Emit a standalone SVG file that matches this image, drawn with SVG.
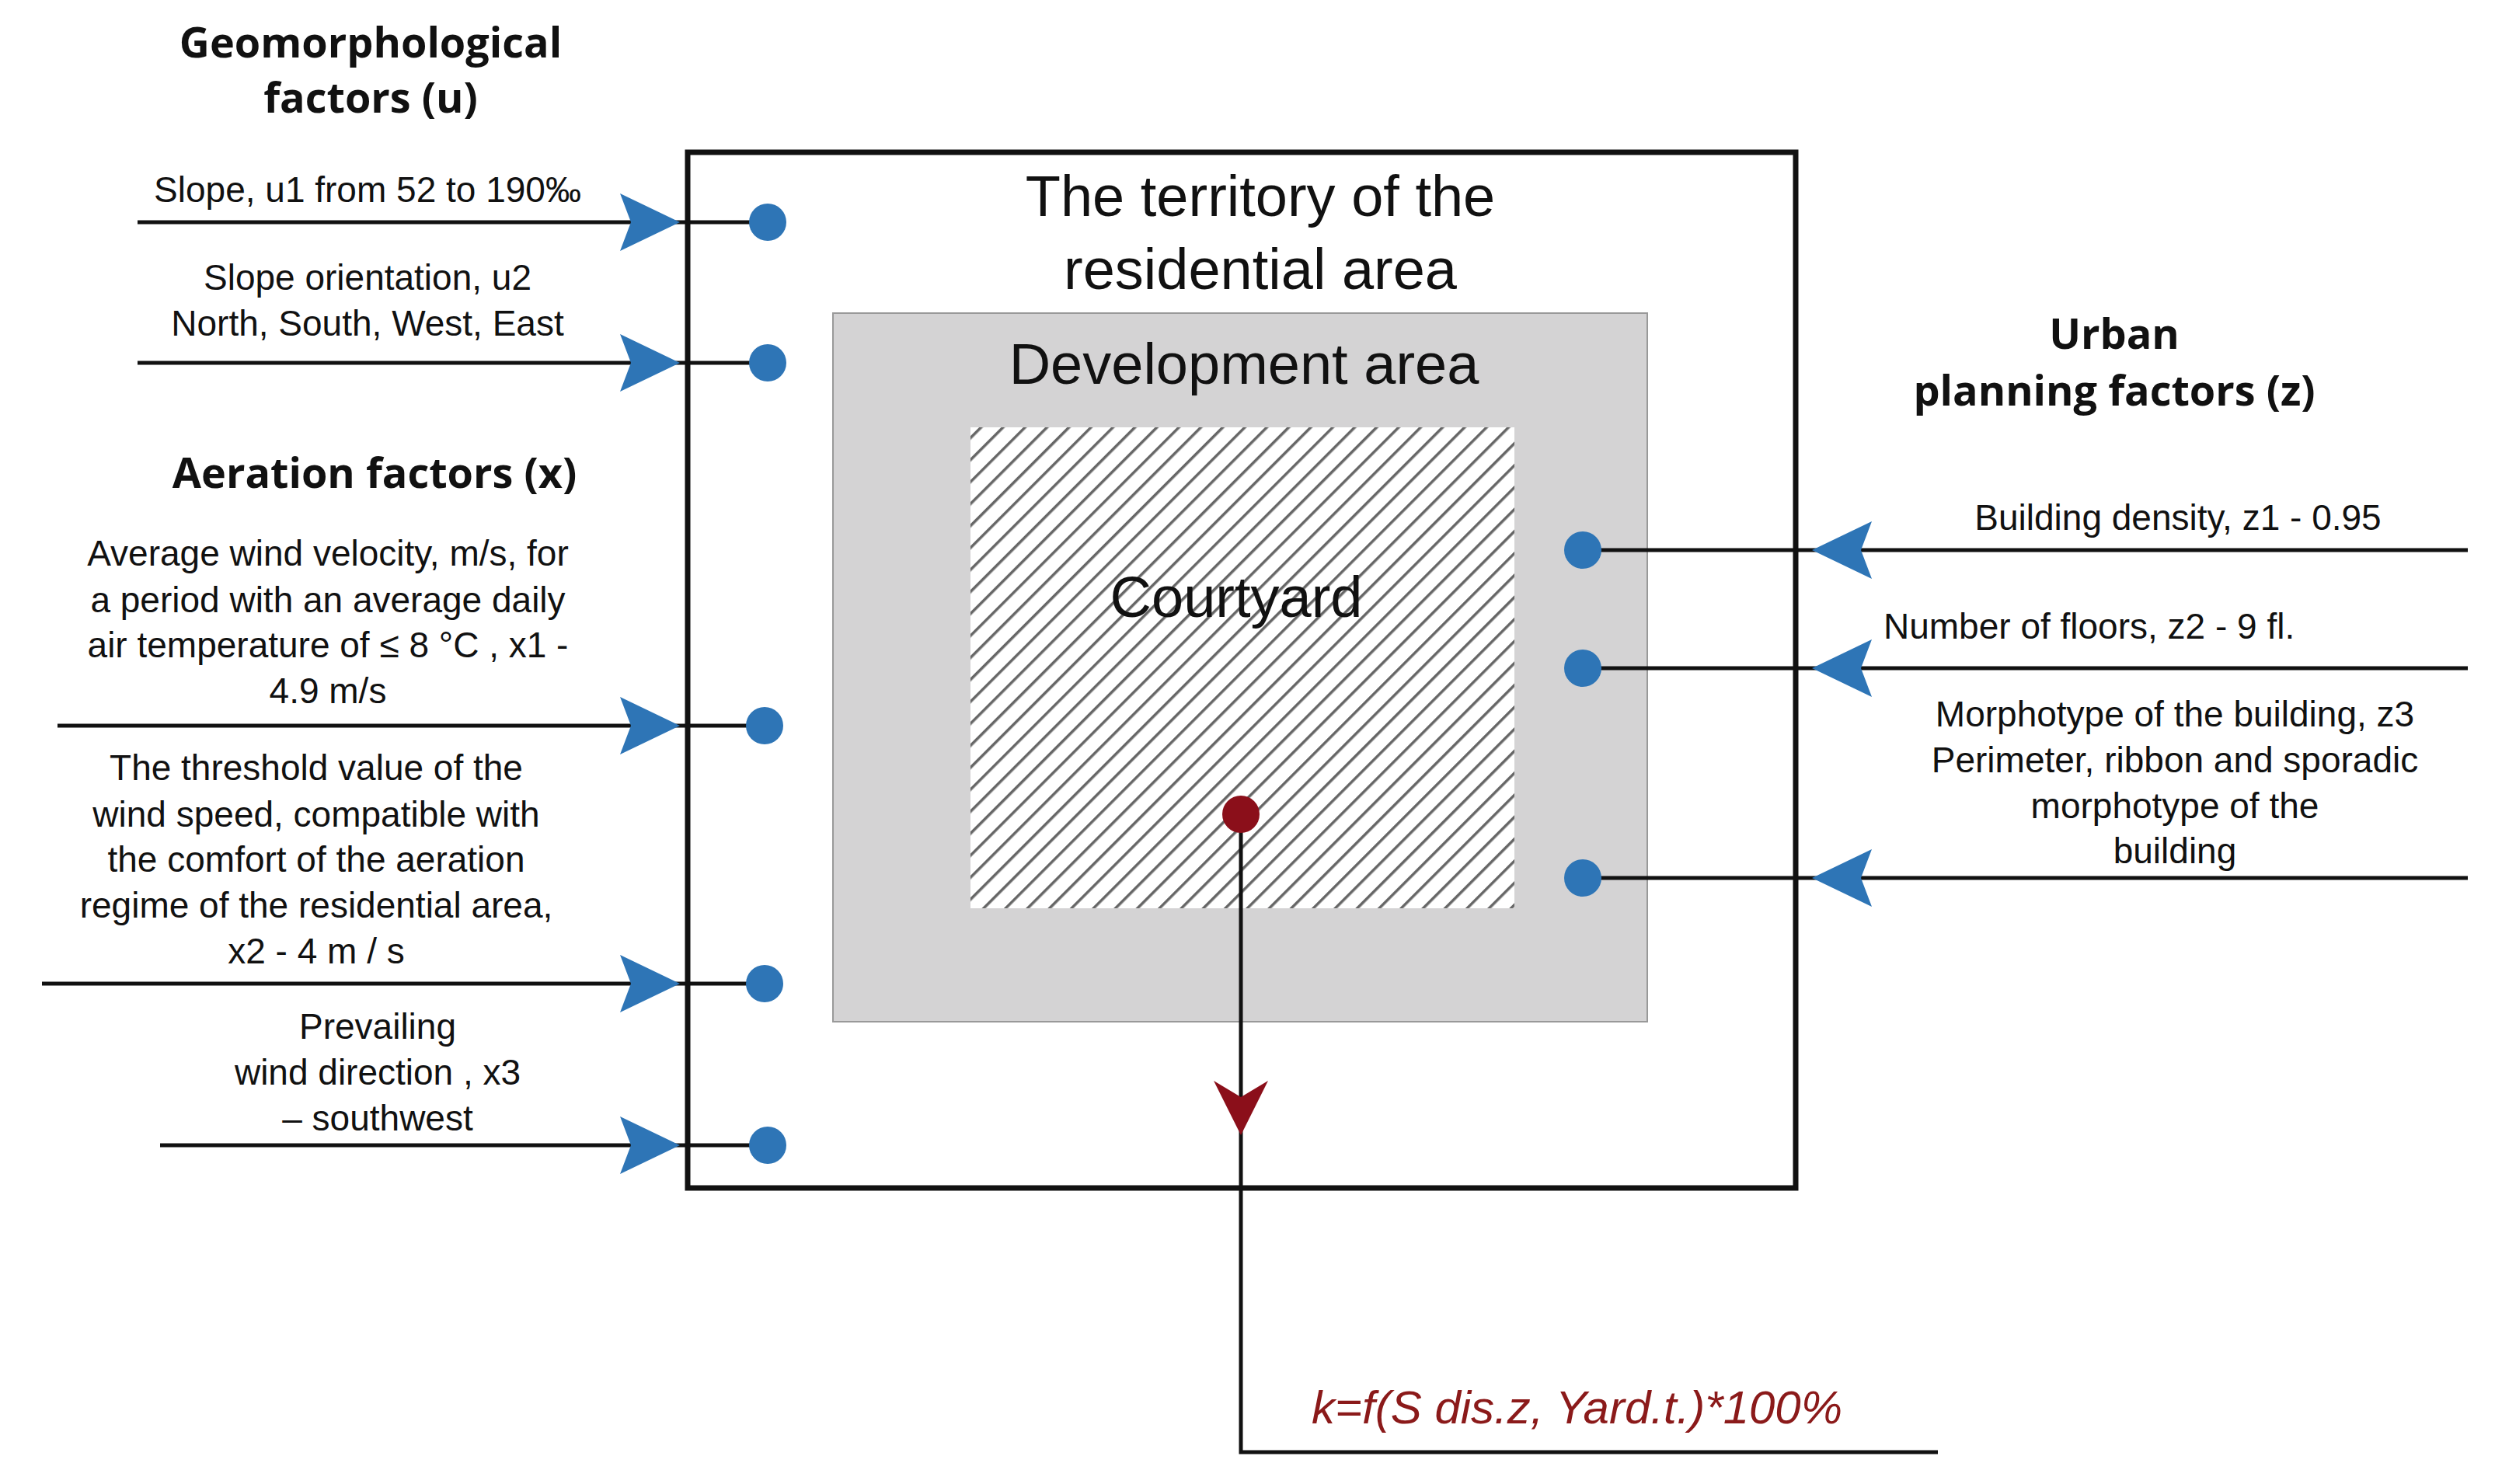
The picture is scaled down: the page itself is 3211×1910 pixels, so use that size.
<svg xmlns="http://www.w3.org/2000/svg" width="3211" height="1910" viewBox="0 0 3211 1910">
<defs>
<pattern id="hatch" patternUnits="userSpaceOnUse" width="20" height="20" patternTransform="rotate(45)">
<rect width="20" height="20" fill="#ffffff"/>
<rect x="0" y="0" width="3.5" height="20" fill="#666"/>
</pattern>
<style>
.t{font-family:"Liberation Sans",Arial,sans-serif;font-size:46px;fill:#111;text-anchor:middle}
.s{text-anchor:start}
.b{font-family:"Open Sans","Liberation Sans",sans-serif;font-size:54px;font-weight:bold;fill:#111;text-anchor:middle}
.big{font-family:"Liberation Sans",Arial,sans-serif;font-size:74px;fill:#111;text-anchor:middle}
.ln{stroke:#111;stroke-width:5;fill:none}
.ar{fill:#2e75b6}
.dot{fill:#2e75b6}
</style>
</defs>
<rect width="3211" height="1910" fill="#fff"/>
<g id="territory">
<rect x="885" y="196" width="1426" height="1333" fill="none" stroke="#111" stroke-width="7"/>
<text class="big" x="1622" y="278">The territory of the</text>
<text class="big" x="1622" y="372">residential area</text>
</g>
<g id="development">
<rect x="1072" y="403" width="1048" height="912" fill="#d4d3d4" stroke="#999" stroke-width="2"/>
<text class="big" x="1601" y="494" font-size="72">Development area</text>
</g>
<g id="courtyard">
<rect x="1249" y="550" width="700" height="619" fill="url(#hatch)"/>
<text class="big" x="1591" y="794">Courtyard</text>
</g>
<g id="titles">
<text class="b" x="477" y="74">Geomorphological</text>
<text class="b" x="477" y="145">factors (u)</text>
<text class="b" x="482" y="628">Aeration factors (x)</text>
<text class="b" x="2721" y="449">Urban</text>
<text class="b" x="2721" y="522">planning factors (z)</text>
</g>
<g id="labels">
<text class="t" x="473" y="260">Slope, u1 from 52 to 190‰</text>
<text class="t" x="473" y="373">Slope orientation, u2</text>
<text class="t" x="473" y="432">North, South, West, East</text>
<text class="t" x="422" y="728">Average wind velocity, m/s, for</text>
<text class="t" x="422" y="788">a period with an average daily</text>
<text class="t" x="422" y="846">air temperature of ≤ 8 °C , x1 -</text>
<text class="t" x="422" y="905">4.9 m/s</text>
<text class="t" x="407" y="1004">The threshold value of the</text>
<text class="t" x="407" y="1064">wind speed, compatible with</text>
<text class="t" x="407" y="1122">the comfort of the aeration</text>
<text class="t" x="407" y="1181">regime of the residential area,</text>
<text class="t" x="407" y="1240">x2 - 4 m / s</text>
<text class="t" x="486" y="1337">Prevailing</text>
<text class="t" x="486" y="1396">wind direction , x3</text>
<text class="t" x="486" y="1455">– southwest</text>
<text class="t" x="2803" y="682">Building density, z1 - 0.95</text>
<text class="t s" x="2424" y="822">Number of floors, z2 - 9 fl.</text>
<text class="t" x="2799" y="935">Morphotype of the building, z3</text>
<text class="t" x="2799" y="994">Perimeter, ribbon and sporadic</text>
<text class="t" x="2799" y="1053">morphotype of the</text>
<text class="t" x="2799" y="1111">building</text>
<text x="1688" y="1832" font-family="Liberation Sans,Arial,sans-serif" font-size="60" font-style="italic" fill="#8b1a1a">k=f(S dis.z, Yard.t.)*100%</text>
</g>
<g id="connectors">
<path class="ln" d="M177 286H988M177 467H988M74 934H984M54 1266H984M206 1474H988"/>
<path class="ar" d="M875 286L798 249L812 286L798 323Z M875 467L798 430L812 467L798 504Z M875 934L798 897L812 934L798 971Z M875 1266L798 1229L812 1266L798 1303Z M875 1474L798 1437L812 1474L798 1511Z"/>
<circle class="dot" cx="988" cy="286" r="24"/>
<circle class="dot" cx="988" cy="467" r="24"/>
<circle class="dot" cx="984" cy="934" r="24"/>
<circle class="dot" cx="984" cy="1266" r="24"/>
<circle class="dot" cx="988" cy="1474" r="24"/>
<path class="ln" d="M3176 708H2037M3176 860H2037M3176 1130H2037"/>
<path class="ar" d="M2332 708L2409 671L2395 708L2409 745Z M2332 860L2409 823L2395 860L2409 897Z M2332 1130L2409 1093L2395 1130L2409 1167Z"/>
<circle class="dot" cx="2037" cy="708" r="24"/>
<circle class="dot" cx="2037" cy="860" r="24"/>
<circle class="dot" cx="2037" cy="1130" r="24"/>
<path class="ln" d="M1597 1048V1869H2494"/>
<path fill="#8b0f1a" d="M1597 1461L1562 1391L1597 1412L1632 1391Z"/>
<circle cx="1597" cy="1048" r="24" fill="#8b0f1a"/>
</g>
</svg>
